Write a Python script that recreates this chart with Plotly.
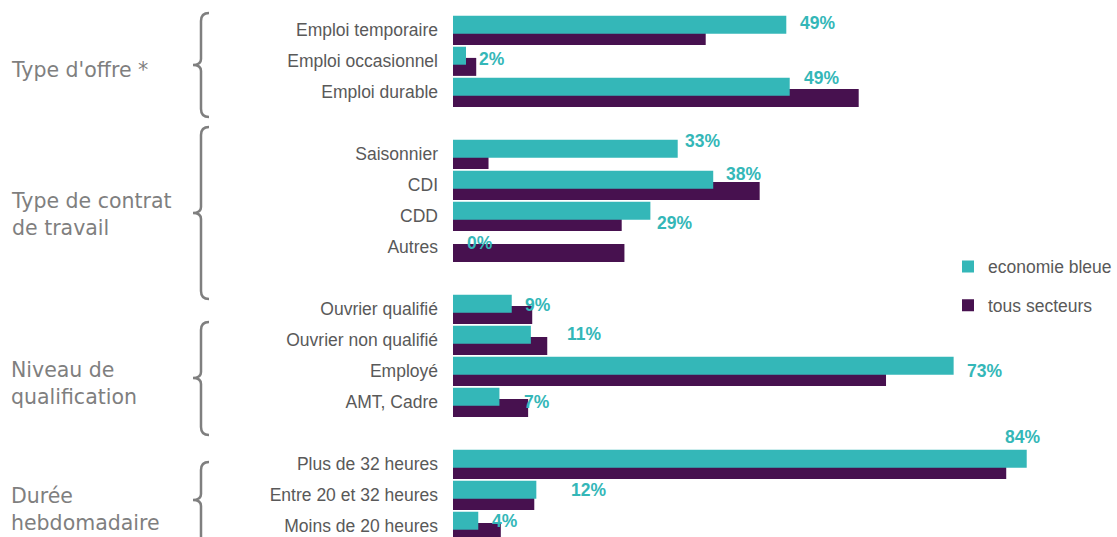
import plotly.graph_objects as go

# ---------------- data ----------------
group_names = ["Type d'offre *", "Type de contrat<br>de travail",
               "Niveau de<br>qualification", "Durée<br>hebdomadaire"]
group_items = [
    ["Emploi temporaire", "Emploi occasionnel", "Emploi durable"],
    ["Saisonnier", "CDI", "CDD", "Autres"],
    ["Ouvrier qualifié", "Ouvrier non qualifié", "Employé", "AMT, Cadre"],
    ["Plus de 32 heures", "Entre 20 et 32 heures", "Moins de 20 heures"],
]
categories = [c for g in group_items for c in g]
economie_bleue = [48.8, 1.9, 49.3, 32.9, 38.1, 28.9, 0.0,
                  8.6, 11.4, 73.3, 6.8, 84.0, 12.2, 3.7]
tous_secteurs = [37.0, 3.4, 59.4, 5.2, 44.9, 24.7, 25.1,
                 11.6, 13.8, 63.4, 11.0, 81.0, 11.9, 7.0]

# label nudges (style: pixel offsets of the hand-placed data labels)
label_nudges = [(14, -2), (13, 3), (14, -9), (7, -8), (13, -6), (7, 12), (14, 1),
                (13, 1), (36, -1), (13, 5), (25, 5), (-22, -22), (35, 0), (14, 0)]

TEAL = "#34B7B8"
PURPLE = "#47114F"
GREY_TXT = "#595959"
GREY_GRP = "#7F7F7F"

# slot positions: one empty slot between groups
positions = []
slot = 0
for g in group_items:
    for _ in g:
        positions.append(slot)
        slot += 1
    slot += 1

W, H = 1117, 537
ML = 453
BAR_W = 0.58
TEAL_OFF = -0.46
PURP_OFF = -0.10

fig = go.Figure()
fig.add_trace(go.Bar(
    y=positions, x=tous_secteurs, orientation="h", name="tous secteurs",
    marker=dict(color=PURPLE, line=dict(width=0)),
    width=BAR_W, offset=PURP_OFF, legendrank=2, legendgroup="p", hoverinfo="skip",
))
fig.add_trace(go.Bar(
    y=positions, x=economie_bleue, orientation="h", name="economie bleue",
    marker=dict(color=TEAL, line=dict(width=0)),
    width=BAR_W, offset=TEAL_OFF, legendrank=1, legendgroup="t", hoverinfo="skip",
))

annotations = []
teal_center = TEAL_OFF + BAR_W / 2
for pos, v, (dx, dy) in zip(positions, economie_bleue, label_nudges):
    annotations.append(dict(
        x=v, y=pos + teal_center, xref="x", yref="y",
        text=f"{round(v):.0f}%", showarrow=False,
        xanchor="left", yanchor="middle", xshift=dx - 2, yshift=-dy,
        font=dict(family="Liberation Sans, Arial", size=17.5, color=TEAL, weight="bold"),
    ))


def px_x(x):
    return (x - ML) / (W - ML)


def px_y(y):
    return 1 - y / H


def P(x, y):
    return f"{px_x(x):.5f},{px_y(y):.5f}"


# group labels
group_centers_px = [70, 214, 383.5, 509]
for name, cy in zip(group_names, group_centers_px):
    annotations.append(dict(
        x=px_x(9), y=px_y(cy), xref="paper", yref="paper",
        text=name, showarrow=False, xanchor="left", yanchor="middle", align="left",
        font=dict(family="DejaVu Sans, Verdana", size=20.5, color=GREY_GRP),
    ))

# braces
braces = [(13, 65, 117), (127, 213, 299), (322, 378, 435), (462, 500, 570)]
shapes = []
V, TIP, END = 201, 193, 209
for T, M, B in braces:
    path = (f"M{P(END, T)} Q{P(V, T)} {P(V, T + 8)} L{P(V, M - 6)} "
            f"Q{P(V, M)} {P(TIP, M)} Q{P(V, M)} {P(V, M + 6)} "
            f"L{P(V, B - 8)} Q{P(V, B)} {P(END, B)}")
    shapes.append(dict(type="path", path=path, xref="paper", yref="paper",
                       line=dict(color=GREY_GRP, width=2.5)))

slot_px = 31.0
top_px = 30.0
y_top = -top_px / slot_px
y_bot = (H - top_px) / slot_px

fig.update_layout(
    width=W, height=H,
    margin=dict(l=ML, r=0, t=0, b=0, pad=0),
    paper_bgcolor="white", plot_bgcolor="white",
    barmode="overlay",
    showlegend=True,
    legend=dict(
        x=px_x(948), y=px_y(286), xanchor="left", yanchor="middle",
        bgcolor="rgba(0,0,0,0)", traceorder="grouped", tracegroupgap=13,
        font=dict(family="Liberation Sans, Arial", size=17.5, color=GREY_TXT),
        itemclick=False, itemdoubleclick=False,
    ),
    xaxis=dict(range=[0, (W - ML) / 6.83], visible=False, fixedrange=True),
    yaxis=dict(
        range=[y_bot, y_top], tickmode="array", tickvals=positions, ticktext=categories,
        showgrid=False, zeroline=False, showline=False, ticks="",
        ticklabelstandoff=14, fixedrange=True,
        tickfont=dict(family="Liberation Sans, Arial", size=17.5, color=GREY_TXT),
    ),
    annotations=annotations,
    shapes=shapes,
    hovermode=False,
)

fig.write_html(
    "out.html",
    config={"displayModeBar": False, "staticPlot": True},
    post_script="document.body.style.margin='0';document.body.style.overflow='hidden';",
)
